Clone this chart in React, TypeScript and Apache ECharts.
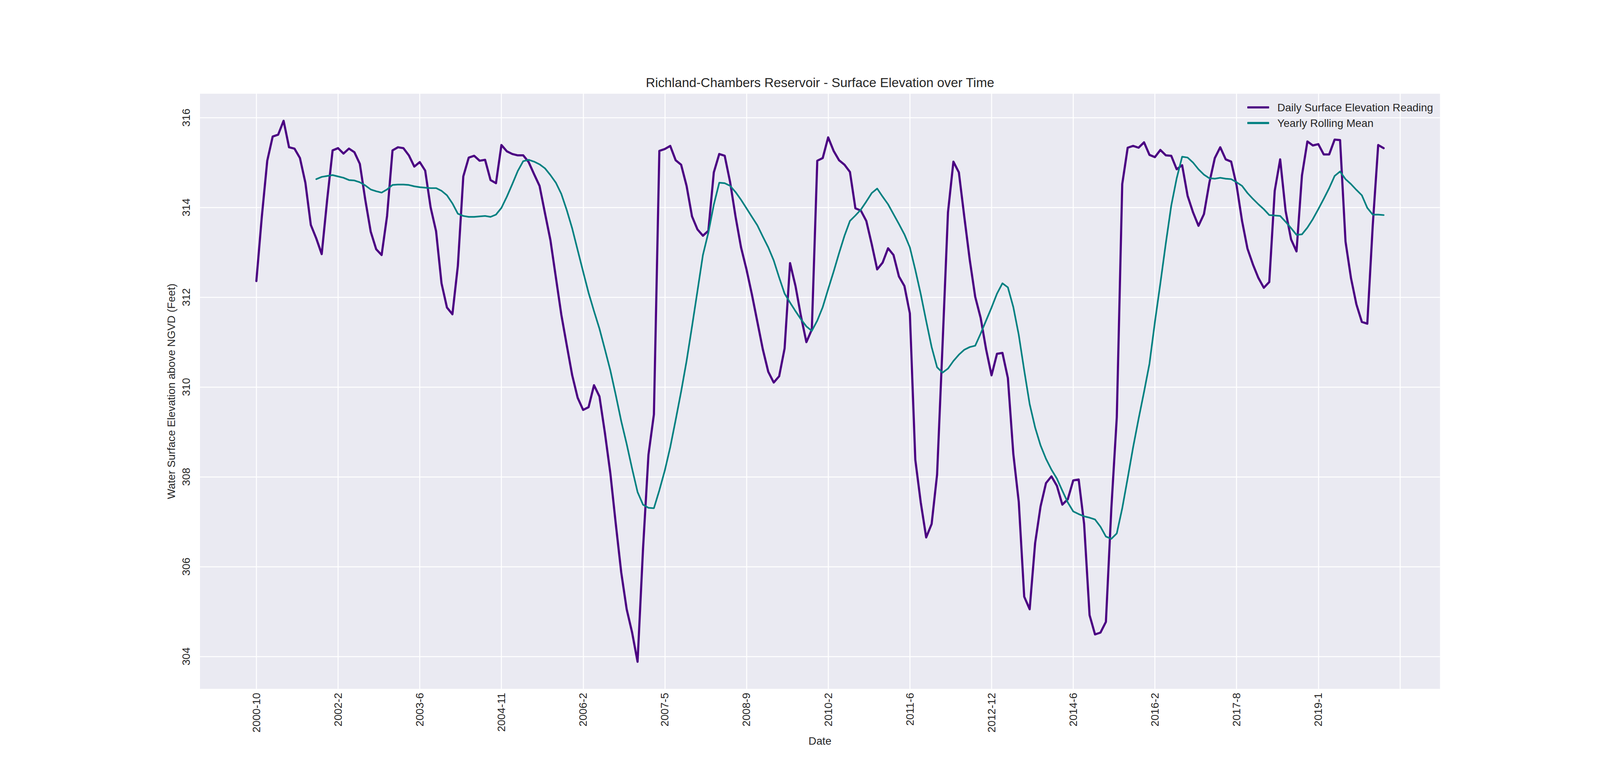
import React, { useEffect, useRef } from "react";
import * as echarts from "echarts";

// Daily surface elevation readings (one per sampled date, index 0..207)
const dailyValues = [
  312.36, 313.79, 315.04, 315.58, 315.62, 315.93, 315.34, 315.31, 315.10, 314.55,
  313.61, 313.31, 312.96, 314.17, 315.27, 315.32, 315.20, 315.31, 315.23, 314.97,
  314.17, 313.46, 313.07, 312.94, 313.81, 315.27, 315.34, 315.32, 315.16, 314.91,
  315.01, 314.82, 314.00, 313.47, 312.31, 311.77, 311.62, 312.70, 314.69, 315.11,
  315.15, 315.04, 315.06, 314.61, 314.54, 315.39, 315.25, 315.19, 315.16, 315.16,
  315.01, 314.74, 314.48, 313.87, 313.27, 312.44, 311.61, 310.93, 310.26, 309.76,
  309.49, 309.55, 310.04, 309.79, 308.98, 308.08, 306.95, 305.87, 305.05, 304.53,
  303.88, 306.39, 308.49, 309.39, 315.26, 315.30, 315.37, 315.05, 314.95, 314.48,
  313.80, 313.51, 313.37, 313.48, 314.78, 315.19, 315.15, 314.56, 313.79, 313.11,
  312.62, 312.06, 311.45, 310.84, 310.34, 310.10, 310.24, 310.86, 312.76, 312.25,
  311.58, 311.00, 311.28, 315.04, 315.10, 315.56, 315.26, 315.05, 314.95, 314.79,
  313.98, 313.93, 313.70, 313.18, 312.62, 312.77, 313.09, 312.94, 312.46, 312.25,
  311.64, 308.38, 307.43, 306.65, 306.95, 308.05, 310.93, 313.89, 315.02, 314.78,
  313.79, 312.83, 312.01, 311.54, 310.84, 310.26, 310.74, 310.76, 310.20, 308.51,
  307.44, 305.33, 305.05, 306.52, 307.34, 307.86, 308.01, 307.80, 307.38, 307.50,
  307.92, 307.94, 306.95, 304.92, 304.49, 304.53, 304.77, 307.30, 309.33, 314.52,
  315.33, 315.37, 315.33, 315.45, 315.17, 315.12, 315.28, 315.16, 315.15, 314.85,
  314.94, 314.26, 313.89, 313.59, 313.85, 314.55, 315.10, 315.34, 315.07, 315.02,
  314.49, 313.70, 313.08, 312.73, 312.43, 312.21, 312.34, 314.37, 315.07, 313.92,
  313.29, 313.02, 314.71, 315.47, 315.38, 315.41, 315.18, 315.18, 315.51, 315.50,
  313.24, 312.43, 311.84, 311.45, 311.41, 313.60, 315.39, 315.32,
];

// Yearly rolling mean (12 readings), first value at index 11
const rollingStart = 11;
const rollingValues = [
  314.63, 314.68, 314.70, 314.72, 314.69, 314.66, 314.61, 314.60, 314.56,
  314.49, 314.40, 314.36, 314.33, 314.40, 314.50, 314.51, 314.51, 314.50, 314.47,
  314.45, 314.44, 314.43, 314.43, 314.37, 314.27, 314.09, 313.86, 313.81, 313.79,
  313.79, 313.80, 313.81, 313.79, 313.84, 313.99, 314.24, 314.52, 314.81, 315.03,
  315.06, 315.02, 314.96, 314.87, 314.72, 314.55, 314.30, 313.94, 313.53, 313.05,
  312.57, 312.10, 311.69, 311.30, 310.84, 310.37, 309.82, 309.24, 308.73, 308.18,
  307.66, 307.38, 307.31, 307.30, 307.70, 308.14, 308.66, 309.27, 309.90, 310.58,
  311.35, 312.14, 312.94, 313.44, 314.06, 314.55, 314.54, 314.48, 314.34, 314.17,
  313.98, 313.79, 313.60, 313.35, 313.11, 312.82, 312.44, 312.08, 311.88, 311.69,
  311.51, 311.35, 311.25, 311.48, 311.78, 312.18, 312.57, 312.98, 313.37, 313.70,
  313.82, 313.95, 314.13, 314.32, 314.42, 314.24, 314.07, 313.85, 313.63, 313.40,
  313.11, 312.61, 312.07, 311.47, 310.89, 310.44, 310.32, 310.41, 310.58, 310.72,
  310.83, 310.89, 310.92, 311.19, 311.48, 311.77, 312.08, 312.31, 312.22, 311.78,
  311.16, 310.37, 309.62, 309.10, 308.70, 308.40, 308.16, 307.96, 307.69, 307.43,
  307.23, 307.17, 307.12, 307.09, 307.05, 306.89, 306.67, 306.62, 306.74, 307.30,
  307.97, 308.66, 309.29, 309.89, 310.52, 311.45, 312.31, 313.20, 314.04, 314.65,
  315.13, 315.11, 315.00, 314.85, 314.73, 314.65, 314.64, 314.66, 314.64, 314.63,
  314.56, 314.48, 314.32, 314.19, 314.07, 313.96, 313.83, 313.82, 313.81, 313.68,
  313.54, 313.39, 313.40, 313.55, 313.74, 313.96, 314.19, 314.43, 314.70, 314.80,
  314.63, 314.52, 314.39, 314.27, 313.99, 313.84, 313.84, 313.83,
];

// X tick positions (reading index) and their labels
const xTickIndex = [0, 15, 30, 45, 60, 75, 90, 105, 120, 135, 150, 165, 180, 195, 210];
const xTickLabels = [
  "2000-10", "2002-2", "2003-6", "2004-11", "2006-2", "2007-5", "2008-9",
  "2010-2", "2011-6", "2012-12", "2014-6", "2016-2", "2017-8", "2019-1", "",
];
const yTicks = [304, 306, 308, 310, 312, 314, 316];

const FONT = "'Liberation Sans', Arial, Helvetica, sans-serif";
const TEXT = "#262626";
const REF_W = 6000;
const H = 2000;

export default function App() {
  const ref = useRef<HTMLDivElement>(null);
  const W = Math.min(REF_W, typeof window !== "undefined" && window.innerWidth ? window.innerWidth : REF_W);

  useEffect(() => {
    document.body.style.margin = "0";
    document.body.style.overflow = "hidden";
    const fx = W / REF_W;

    const chart = echarts.init(ref.current as HTMLDivElement, null, { renderer: "svg" });

    const dailyData = dailyValues.map((v, i) => [i, v]);
    const rollingData = rollingValues.map((v, k) => [k + rollingStart, v]);
    const n = dailyValues.length - 1;
    const allVals = dailyValues.concat(rollingValues);
    const dMin = Math.min(...allVals);
    const dMax = Math.max(...allVals);
    const yPad = (dMax - dMin) * 0.05;
    const xPad = n * 0.05;

    chart.setOption({
      animation: false,
      backgroundColor: "#ffffff",
      title: {
        text: "Richland-Chambers Reservoir - Surface Elevation over Time",
        left: 3075 * fx,
        top: 195,
        textAlign: "center",
        padding: 0,
        textStyle: { fontFamily: FONT, fontSize: 33.3, fontWeight: "normal", color: TEXT },
      },
      legend: {
        orient: "vertical",
        align: "left",
        right: (REF_W - 5374) * fx,
        top: 261,
        padding: 0,
        icon: "roundRect",
        itemWidth: 56,
        itemHeight: 5.5,
        itemGap: 12,
        textStyle: {
          fontFamily: FONT,
          fontSize: 27.8,
          color: TEXT,
          lineHeight: 28,
          padding: [0, 0, 0, 16],
        },
        data: ["Daily Surface Elevation Reading", "Yearly Rolling Mean"],
      },
      grid: {
        left: 750 * fx,
        right: 600 * fx,
        top: 240,
        bottom: 236,
        show: true,
        backgroundColor: "#EAEAF2",
        borderWidth: 0,
      },
      xAxis: {
        type: "value",
        min: -xPad,
        max: n + xPad,
        axisLine: { show: false },
        axisTick: { show: false, customValues: xTickIndex },
        axisLabel: {
          customValues: xTickIndex,
          formatter: (v: number) => {
            const k = xTickIndex.indexOf(Math.round(v));
            return k >= 0 ? xTickLabels[k] : "";
          },
          rotate: 90,
          margin: 10,
          fontFamily: FONT,
          fontSize: 27.8,
          color: TEXT,
        },
        splitLine: { show: true, lineStyle: { color: "#ffffff", width: 2.5 } },
        name: "Date",
        nameLocation: "middle",
        nameGap: 116,
        nameTextStyle: { fontFamily: FONT, fontSize: 27.8, color: TEXT },
      },
      yAxis: {
        type: "value",
        min: dMin - yPad,
        max: dMax + yPad,
        axisLine: { show: false },
        axisTick: { show: false, customValues: yTicks },
        axisLabel: {
          customValues: yTicks,
          rotate: 90,
          margin: 22,
          fontFamily: FONT,
          fontSize: 27.8,
          color: TEXT,
        },
        splitLine: { show: true, lineStyle: { color: "#ffffff", width: 2.5 } },
        name: "Water Surface Elevation above NGVD (Feet)",
        nameLocation: "middle",
        nameRotate: 90,
        nameGap: 60,
        nameTextStyle: { fontFamily: FONT, fontSize: 27.8, color: TEXT },
      },
      series: [
        {
          name: "Daily Surface Elevation Reading",
          type: "line",
          data: dailyData,
          symbol: "none",
          showSymbol: false,
          itemStyle: { color: "#4B0082" },
          lineStyle: { color: "#4B0082", width: 5.5, cap: "round", join: "round" },
          z: 3,
        },
        {
          name: "Yearly Rolling Mean",
          type: "line",
          data: rollingData,
          symbol: "none",
          showSymbol: false,
          itemStyle: { color: "#008080" },
          lineStyle: { color: "#008080", width: 4.2, cap: "round", join: "round" },
          z: 4,
        },
      ],
    });

    return () => chart.dispose();
  }, [W]);

  return <div ref={ref} style={{ width: W, height: H }} />;
}
